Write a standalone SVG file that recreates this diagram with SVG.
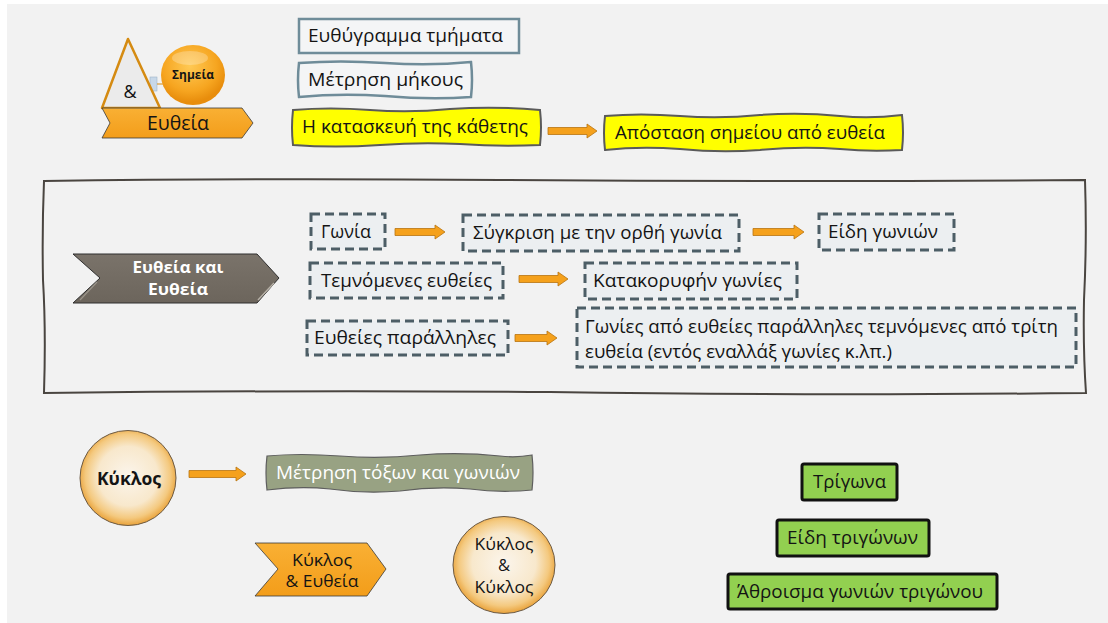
<svg xmlns="http://www.w3.org/2000/svg" width="1108" height="623" viewBox="0 0 1108 623">
<defs>
<radialGradient id="beige" cx="50%" cy="48%" r="52%">
<stop offset="0" stop-color="#fbf5ec"/>
<stop offset="0.6" stop-color="#f8e8cc"/>
<stop offset="0.85" stop-color="#f4c97f"/>
<stop offset="1" stop-color="#e9a23a"/>
</radialGradient>
<radialGradient id="sphere" cx="45%" cy="35%" r="60%">
<stop offset="0" stop-color="#ffc954"/>
<stop offset="0.7" stop-color="#f6a520"/>
<stop offset="1" stop-color="#e88d0c"/>
</radialGradient>
<linearGradient id="orng" x1="0" y1="0" x2="0" y2="1">
<stop offset="0" stop-color="#f9b034"/>
<stop offset="1" stop-color="#f39d1a"/>
</linearGradient>
<linearGradient id="grayc" x1="0" y1="0" x2="0" y2="1">
<stop offset="0" stop-color="#7a736a"/>
<stop offset="1" stop-color="#6c655c"/>
</linearGradient>
</defs>
<style>
text{font-family:"Open Sans","Noto Sans","DejaVu Sans",sans-serif;fill:#141414;}
.t17{font-size:18.5px;}
.dash{fill:#eceff1;stroke:#4d5e66;stroke-width:3;stroke-dasharray:9 5;}
.yel{fill:#ffff00;stroke:#5a5a5a;stroke-width:2;}
.grn{fill:#92d050;stroke:#111;stroke-width:3;}
.arr{fill:#f5a11c;stroke:#b87410;stroke-width:0.8;}
.circ{fill:url(#beige);stroke:#6b5a45;stroke-width:1;}
.b{font-weight:bold;}
</style>
<rect x="0" y="0" width="1108" height="623" fill="#ffffff"/>
<rect x="7" y="4" width="1101" height="619" fill="#f2f2f2"/>

<!-- frame -->
<g id="frame">
<path d="M44,181 Q250,178 500,180 Q800,182 1085,180 Q1087,240 1084,300 Q1083,350 1086,393 Q800,396 550,392 Q300,390 44,393 Q46,330 43,280 Q42,230 44,181Z" fill="none" stroke="#4a4540" stroke-width="2"/>
</g>

<!-- connectors -->
<g id="connectors">
<polygon class="arr" points="548,127.5 587,127.5 587,124 597,131 587,138 587,134.5 548,134.5"/>
<polygon class="arr" points="395,228.5 435,228.5 435,225 445,232 435,239 435,235.5 395,235.5"/>
<polygon class="arr" points="753,228.5 794,228.5 794,225 804,232 794,239 794,235.5 753,235.5"/>
<polygon class="arr" points="519,275.5 558,275.5 558,272 568,279 558,286 558,282.5 519,282.5"/>
<polygon class="arr" points="515,334.5 547,334.5 547,331 557,338 547,345 547,341.5 515,341.5"/>
<polygon class="arr" points="189,470.5 236,470.5 236,467 246,474 236,481 236,477.5 189,477.5"/>
<rect x="150" y="77" width="7" height="14" fill="#c8d8e8" stroke="#9fb4c8" stroke-width="0.6"/>
<line x1="157" y1="84" x2="163" y2="84" stroke="#d58b12" stroke-width="1"/>
</g>

<!-- top-left composite -->
<g id="triangle">
<polygon points="128,39 160,108 102,108" fill="#ebebeb" stroke="#d58b12" stroke-width="2.5" stroke-linejoin="round"/>
<text x="130" y="98" text-anchor="middle" style="font-size:18px">&amp;</text>
</g>
<g id="simeia">
<ellipse cx="193" cy="75" rx="32" ry="30" fill="url(#sphere)"/>
<ellipse cx="190" cy="58" rx="18" ry="7" fill="#ffffff" opacity="0.25"/>
<text x="193" y="79" text-anchor="middle" class="b" style="font-size:12px" textLength="42" lengthAdjust="spacingAndGlyphs">Σημεία</text>
</g>
<g id="eutheia">
<polygon points="102,108 242,108 253,123 242,138 102,138 110,123" fill="url(#orng)" stroke="#3a3a3a" stroke-width="0.8"/>
<text x="178" y="130" text-anchor="middle" style="font-size:20px" textLength="62" lengthAdjust="spacingAndGlyphs">Ευθεία</text>
</g>

<g id="euthygramma">
<rect x="299" y="19" width="220" height="34" fill="#f4f5f6" stroke="#6f8c99" stroke-width="2.5"/>
<text class="t17" x="308" y="42" textLength="195" lengthAdjust="spacingAndGlyphs">Ευθύγραμμα τμήματα</text>
</g>
<g id="metrisi-mikous">
<path d="M299,63 Q340,60 385,63 Q430,66 471,62 Q473,80 471,97 Q430,100 385,96 Q340,93 299,97 Q297,80 299,63Z" fill="#f4f5f6" stroke="#6f8c99" stroke-width="2.5"/>
<text class="t17" x="308" y="86" textLength="155" lengthAdjust="spacingAndGlyphs">Μέτρηση μήκους</text>
</g>
<g id="kathetos">
<path class="yel" d="M293,110 Q330,107 370,110 Q410,113 450,109 Q495,106 540,110 Q542,127 540,145 Q500,147 460,144 Q420,142 380,145 Q335,148 293,145 Q291,128 293,110Z"/>
<text class="t17" x="302" y="133" textLength="226" lengthAdjust="spacingAndGlyphs">Η κατασκευή της κάθετης</text>
</g>
<g id="apostasi">
<path class="yel" d="M605,116 Q640,113 680,116 Q720,119 760,115 Q800,112 840,116 Q870,119 902,115 Q904,133 902,150 Q870,152 840,149 Q800,146 760,150 Q720,153 680,149 Q640,146 605,150 Q603,133 605,116Z"/>
<text class="t17" x="615" y="139" textLength="270" lengthAdjust="spacingAndGlyphs">Απόσταση σημείου από ευθεία</text>
</g>

<!-- middle frame content -->
<g id="eutheia-kai-eutheia">
<polygon points="73,254 257,254 279,278 257,303 73,303 100,278" fill="url(#grayc)" stroke="#2e2e2e" stroke-width="1"/>
<line x1="258" y1="300" x2="274" y2="283" stroke="#b8b2a8" stroke-width="1.5"/>
<line x1="80" y1="300" x2="97" y2="282" stroke="#9a948a" stroke-width="1.2"/>
<text x="178" y="273" text-anchor="middle" class="b" style="font-size:16px;fill:#ffffff" textLength="91" lengthAdjust="spacingAndGlyphs">Ευθεία και</text>
<text x="178" y="295" text-anchor="middle" class="b" style="font-size:16px;fill:#ffffff" textLength="60" lengthAdjust="spacingAndGlyphs">Ευθεία</text>
</g>
<g id="gonia">
<rect class="dash" x="311" y="214" width="74" height="35"/>
<text class="t17" x="321" y="238" textLength="50" lengthAdjust="spacingAndGlyphs">Γωνία</text>
</g>
<g id="sygkrisi">
<rect class="dash" x="463" y="215" width="276" height="36"/>
<text class="t17" x="473" y="239" textLength="249" lengthAdjust="spacingAndGlyphs">Σύγκριση με την ορθή γωνία</text>
</g>
<g id="eidi-gonion">
<rect class="dash" x="819" y="214" width="135" height="36"/>
<text class="t17" x="828" y="238" textLength="110" lengthAdjust="spacingAndGlyphs">Είδη γωνιών</text>
</g>
<g id="temnomenes">
<rect class="dash" x="310" y="263" width="193" height="35"/>
<text class="t17" x="321" y="287" textLength="171" lengthAdjust="spacingAndGlyphs">Τεμνόμενες ευθείες</text>
</g>
<g id="katakoryfin">
<rect class="dash" x="585" y="263" width="212" height="36"/>
<text class="t17" x="593" y="287" textLength="189" lengthAdjust="spacingAndGlyphs">Κατακορυφήν γωνίες</text>
</g>
<g id="parallniles">
<rect class="dash" x="307" y="321" width="201" height="34"/>
<text class="t17" x="314" y="344" textLength="182" lengthAdjust="spacingAndGlyphs">Ευθείες παράλληλες</text>
</g>
<g id="gonies-parallilon">
<rect class="dash" x="577" y="308" width="499" height="59"/>
<text class="t17" x="585" y="333" textLength="473" lengthAdjust="spacingAndGlyphs">Γωνίες από ευθείες παράλληλες τεμνόμενες από τρίτη</text>
<text class="t17" x="585" y="358" textLength="307" lengthAdjust="spacingAndGlyphs">ευθεία (εντός εναλλάξ γωνίες κ.λπ.)</text>
</g>

<!-- bottom -->
<g id="kyklos">
<ellipse class="circ" cx="128" cy="478" rx="48" ry="47.5"/>
<text x="129" y="485" text-anchor="middle" class="b" style="font-size:18px" textLength="64" lengthAdjust="spacingAndGlyphs">Κύκλος</text>
</g>
<g id="metrisi-toxon">
<path d="M267,456 Q300,453 340,456 Q380,459 420,455 Q460,452 500,456 Q516,458 532,455 Q534,473 532,490 Q500,493 470,489 Q435,486 400,491 Q365,494 330,489 Q300,486 267,490 Q265,473 267,456Z" fill="#98a283" stroke="#5e5e5e" stroke-width="1.2"/>
<text class="t17" x="276" y="479" style="fill:#ffffff" textLength="244" lengthAdjust="spacingAndGlyphs">Μέτρηση τόξων και γωνιών</text>
</g>
<g id="kyklos-eutheia">
<polygon points="255,543 367,543 386,569 367,596 255,596 278,569" fill="url(#orng)" stroke="#3a3a3a" stroke-width="0.8"/>
<text x="322" y="566" text-anchor="middle" style="font-size:16.5px" textLength="60" lengthAdjust="spacingAndGlyphs">Κύκλος</text>
<text x="322" y="587" text-anchor="middle" style="font-size:16.5px" textLength="73" lengthAdjust="spacingAndGlyphs">&amp; Ευθεία</text>
</g>
<g id="kyklos-kyklos">
<ellipse class="circ" cx="504" cy="565" rx="51" ry="48.5"/>
<text x="504" y="550" text-anchor="middle" style="font-size:16.5px" textLength="59" lengthAdjust="spacingAndGlyphs">Κύκλος</text>
<text x="504" y="571" text-anchor="middle" style="font-size:16.5px">&amp;</text>
<text x="504" y="593" text-anchor="middle" style="font-size:16.5px" textLength="59" lengthAdjust="spacingAndGlyphs">Κύκλος</text>
</g>

<g id="trigona">
<rect class="grn" x="802" y="464" width="95" height="36" rx="2"/>
<text class="t17" x="813" y="488" textLength="73" lengthAdjust="spacingAndGlyphs">Τρίγωνα</text>
</g>
<g id="eidi-trigonon">
<rect class="grn" x="777" y="520" width="152" height="36" rx="2"/>
<text class="t17" x="787" y="544" textLength="131" lengthAdjust="spacingAndGlyphs">Είδη τριγώνων</text>
</g>
<g id="athroisma">
<rect class="grn" x="728" y="574" width="269" height="35" rx="2"/>
<text class="t17" x="737" y="598" textLength="246" lengthAdjust="spacingAndGlyphs">Άθροισμα γωνιών τριγώνου</text>
</g>
</svg>
